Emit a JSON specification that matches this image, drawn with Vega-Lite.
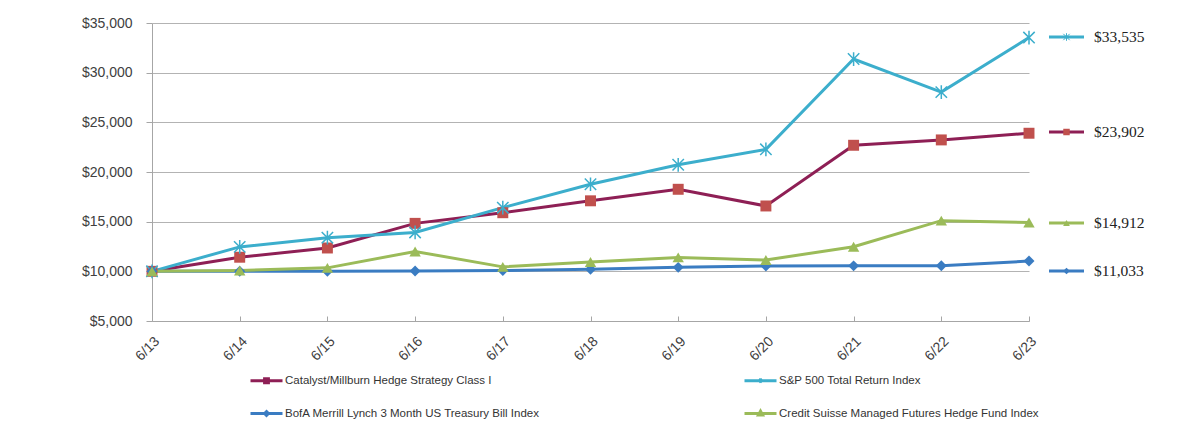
{
  "$schema": "https://vega.github.io/schema/vega-lite/v6.json",
  "padding": {"left": 81, "top": 16, "right": 0, "bottom": 0},
  "autosize": {"type": "pad"},
  "background": "white",
  "bounds": "flush",
  "config": {"view": {"stroke": null}, "concat": {"spacing": 0}, "font": "Liberation Sans"},
  "datasets": {
    "series": [
      {"date": "6/13", "series": "Catalyst/Millburn Hedge Strategy Class I", "value": 10000},
      {"date": "6/14", "series": "Catalyst/Millburn Hedge Strategy Class I", "value": 11420},
      {"date": "6/15", "series": "Catalyst/Millburn Hedge Strategy Class I", "value": 12350},
      {"date": "6/16", "series": "Catalyst/Millburn Hedge Strategy Class I", "value": 14830},
      {"date": "6/17", "series": "Catalyst/Millburn Hedge Strategy Class I", "value": 15900},
      {"date": "6/18", "series": "Catalyst/Millburn Hedge Strategy Class I", "value": 17100},
      {"date": "6/19", "series": "Catalyst/Millburn Hedge Strategy Class I", "value": 18260},
      {"date": "6/20", "series": "Catalyst/Millburn Hedge Strategy Class I", "value": 16580},
      {"date": "6/21", "series": "Catalyst/Millburn Hedge Strategy Class I", "value": 22690},
      {"date": "6/22", "series": "Catalyst/Millburn Hedge Strategy Class I", "value": 23230},
      {"date": "6/23", "series": "Catalyst/Millburn Hedge Strategy Class I", "value": 23902},
      {"date": "6/13", "series": "S&P 500 Total Return Index", "value": 10000},
      {"date": "6/14", "series": "S&P 500 Total Return Index", "value": 12461},
      {"date": "6/15", "series": "S&P 500 Total Return Index", "value": 13386},
      {"date": "6/16", "series": "S&P 500 Total Return Index", "value": 13920},
      {"date": "6/17", "series": "S&P 500 Total Return Index", "value": 16411},
      {"date": "6/18", "series": "S&P 500 Total Return Index", "value": 18770},
      {"date": "6/19", "series": "S&P 500 Total Return Index", "value": 20726},
      {"date": "6/20", "series": "S&P 500 Total Return Index", "value": 22283},
      {"date": "6/21", "series": "S&P 500 Total Return Index", "value": 31372},
      {"date": "6/22", "series": "S&P 500 Total Return Index", "value": 28040},
      {"date": "6/23", "series": "S&P 500 Total Return Index", "value": 33535},
      {"date": "6/13", "series": "BofA Merrill Lynch 3 Month US Treasury Bill Index", "value": 10000},
      {"date": "6/14", "series": "BofA Merrill Lynch 3 Month US Treasury Bill Index", "value": 10005},
      {"date": "6/15", "series": "BofA Merrill Lynch 3 Month US Treasury Bill Index", "value": 10010},
      {"date": "6/16", "series": "BofA Merrill Lynch 3 Month US Treasury Bill Index", "value": 10030},
      {"date": "6/17", "series": "BofA Merrill Lynch 3 Month US Treasury Bill Index", "value": 10080},
      {"date": "6/18", "series": "BofA Merrill Lynch 3 Month US Treasury Bill Index", "value": 10200},
      {"date": "6/19", "series": "BofA Merrill Lynch 3 Month US Treasury Bill Index", "value": 10400},
      {"date": "6/20", "series": "BofA Merrill Lynch 3 Month US Treasury Bill Index", "value": 10540},
      {"date": "6/21", "series": "BofA Merrill Lynch 3 Month US Treasury Bill Index", "value": 10550},
      {"date": "6/22", "series": "BofA Merrill Lynch 3 Month US Treasury Bill Index", "value": 10570},
      {"date": "6/23", "series": "BofA Merrill Lynch 3 Month US Treasury Bill Index", "value": 11033},
      {"date": "6/13", "series": "Credit Suisse Managed Futures Hedge Fund Index", "value": 10000},
      {"date": "6/14", "series": "Credit Suisse Managed Futures Hedge Fund Index", "value": 10080},
      {"date": "6/15", "series": "Credit Suisse Managed Futures Hedge Fund Index", "value": 10350},
      {"date": "6/16", "series": "Credit Suisse Managed Futures Hedge Fund Index", "value": 12000},
      {"date": "6/17", "series": "Credit Suisse Managed Futures Hedge Fund Index", "value": 10450},
      {"date": "6/18", "series": "Credit Suisse Managed Futures Hedge Fund Index", "value": 10940},
      {"date": "6/19", "series": "Credit Suisse Managed Futures Hedge Fund Index", "value": 11400},
      {"date": "6/20", "series": "Credit Suisse Managed Futures Hedge Fund Index", "value": 11140},
      {"date": "6/21", "series": "Credit Suisse Managed Futures Hedge Fund Index", "value": 12480},
      {"date": "6/22", "series": "Credit Suisse Managed Futures Hedge Fund Index", "value": 15100},
      {"date": "6/23", "series": "Credit Suisse Managed Futures Hedge Fund Index", "value": 14912}
    ],
    "labels": [
      {"series": "S&P 500 Total Return Index", "label": "$33,535", "pos": 33591},
      {"series": "Catalyst/Millburn Hedge Strategy Class I", "label": "$23,902", "pos": 24027},
      {"series": "Credit Suisse Managed Futures Hedge Fund Index", "label": "$14,912", "pos": 14866},
      {"series": "BofA Merrill Lynch 3 Month US Treasury Bill Index", "label": "$11,033", "pos": 10034}
    ]
  },
  "resolve": {"scale": {"y": "shared"}},
  "hconcat": [
    {
      "width": 877,
      "height": 298,
      "data": {"name": "series"},
      "encoding": {
        "x": {"field": "date", "type": "ordinal", "sort": null, "scale": {"type": "point", "padding": 0},
          "axis": {"title": null, "labelAngle": -45, "labelFontSize": 14, "labelColor": "#404040", "domainColor": "#A6A6A6", "tickColor": "#A6A6A6", "tickSize": -5, "labelPadding": 18, "grid": false}},
        "y": {"field": "value", "type": "quantitative", "scale": {"domain": [5000, 35000], "nice": false, "zero": false},
          "axis": {"title": null, "values": [5000, 10000, 15000, 20000, 25000, 30000, 35000], "format": "$,.0f", "labelFontSize": 14, "labelColor": "#404040", "gridColor": "#B3B3B3", "gridWidth": 1.2, "domainColor": "#A6A6A6", "tickColor": "#A6A6A6", "tickSize": 6, "labelPadding": 14}}
      },
      "layer": [
        {
          "mark": {"type": "line", "strokeWidth": 3},
          "encoding": {
            "color": {"field": "series", "type": "nominal",
              "scale": {"domain": ["Catalyst/Millburn Hedge Strategy Class I", "S&P 500 Total Return Index", "BofA Merrill Lynch 3 Month US Treasury Bill Index", "Credit Suisse Managed Futures Hedge Fund Index"],
                "range": ["#8E1F55", "#3CAECC", "#3A7CC2", "#9BBB59"]},
              "legend": {
                "title": null, "orient": "none", "legendX": 97, "legendY": 340, "direction": "horizontal", "columns": 2, "columnPadding": 198, "rowPadding": 7,
                "symbolSize": 1024, "labelFontSize": 11.5, "labelColor": "#333333", "labelOffset": 1, "labelLimit": 400,
                "encode": {"symbols": {"update": {
                  "shape": {"signal": "datum.value === 'Catalyst/Millburn Hedge Strategy Class I' ? 'M-1,0H1M-0.12,-0.12H0.12V0.12H-0.12Z' : datum.value === 'S&P 500 Total Return Index' ? 'M-1,0H1M-0.1,-0.1L0.1,0.1M-0.1,0.1L0.1,-0.1M0,-0.14L0,0.14' : datum.value === 'BofA Merrill Lynch 3 Month US Treasury Bill Index' ? 'M-1,0H1M-0.12,0L0,-0.12L0.12,0L0,0.12Z' : 'M-1,0H1M-0.13,0.1L0,-0.14L0.13,0.1Z'"},
                  "fill": {"signal": "datum.value === 'Catalyst/Millburn Hedge Strategy Class I' ? '#C0504D' : datum.value === 'S&P 500 Total Return Index' ? 'transparent' : datum.value === 'BofA Merrill Lynch 3 Month US Treasury Bill Index' ? '#3A7CC2' : '#9BBB59'"},
                  "stroke": {"signal": "datum.value === 'Catalyst/Millburn Hedge Strategy Class I' ? '#8E1F55' : datum.value === 'S&P 500 Total Return Index' ? '#3CAECC' : datum.value === 'BofA Merrill Lynch 3 Month US Treasury Bill Index' ? '#3A7CC2' : '#9BBB59'"},
                  "strokeWidth": {"value": 3},
                  "opacity": {"value": 1}
                }}}
              }}
          }
        },
        {
          "transform": [{"filter": "datum.series === 'Catalyst/Millburn Hedge Strategy Class I'"}],
          "mark": {"type": "point", "shape": "square", "filled": true, "opacity": 1, "fill": "#C0504D", "size": 120}
        },
        {
          "transform": [{"filter": "datum.series === 'S&P 500 Total Return Index'"}],
          "mark": {"type": "point", "shape": "M-1,-1L1,1M-1,1L1,-1M0,-1.2L0,1.2", "filled": false, "opacity": 1, "stroke": "#3CAECC", "strokeWidth": 1.5, "size": 130}
        },
        {
          "transform": [{"filter": "datum.series === 'BofA Merrill Lynch 3 Month US Treasury Bill Index'"}],
          "mark": {"type": "point", "shape": "diamond", "filled": true, "opacity": 1, "fill": "#3A7CC2", "size": 120}
        },
        {
          "transform": [{"filter": "datum.series === 'Credit Suisse Managed Futures Hedge Fund Index'"}],
          "mark": {"type": "point", "shape": "triangle-up", "filled": true, "opacity": 1, "fill": "#9BBB59", "size": 130}
        }
      ]
    },
    {
      "width": 170,
      "height": 298,
      "data": {"name": "labels"},
      "encoding": {
        "y": {"field": "pos", "type": "quantitative", "scale": {"domain": [5000, 35000], "nice": false, "zero": false}, "axis": null}
      },
      "layer": [
        {
          "mark": {"type": "rule", "strokeWidth": 3},
          "encoding": {
            "x": {"datum": 20, "type": "quantitative", "scale": {"domain": [0, 170]}, "axis": null},
            "x2": {"datum": 55},
            "color": {"field": "series", "type": "nominal",
              "scale": {"domain": ["Catalyst/Millburn Hedge Strategy Class I", "S&P 500 Total Return Index", "BofA Merrill Lynch 3 Month US Treasury Bill Index", "Credit Suisse Managed Futures Hedge Fund Index"],
                "range": ["#8E1F55", "#3CAECC", "#3A7CC2", "#9BBB59"]}, "legend": null}
          }
        },
        {
          "transform": [{"filter": "datum.series === 'Catalyst/Millburn Hedge Strategy Class I'"}],
          "mark": {"type": "point", "shape": "square", "filled": true, "opacity": 1, "fill": "#C0504D", "size": 42},
          "encoding": {"x": {"datum": 37.5, "type": "quantitative", "scale": {"domain": [0, 170]}, "axis": null}}
        },
        {
          "transform": [{"filter": "datum.series === 'S&P 500 Total Return Index'"}],
          "mark": {"type": "point", "shape": "M-1,-1L1,1M-1,1L1,-1M0,-1.2L0,1.2", "filled": false, "opacity": 1, "stroke": "#3CAECC", "strokeWidth": 1, "size": 40},
          "encoding": {"x": {"datum": 37.5, "type": "quantitative", "scale": {"domain": [0, 170]}, "axis": null}}
        },
        {
          "transform": [{"filter": "datum.series === 'BofA Merrill Lynch 3 Month US Treasury Bill Index'"}],
          "mark": {"type": "point", "shape": "diamond", "filled": true, "opacity": 1, "fill": "#3A7CC2", "size": 45},
          "encoding": {"x": {"datum": 37.5, "type": "quantitative", "scale": {"domain": [0, 170]}, "axis": null}}
        },
        {
          "transform": [{"filter": "datum.series === 'Credit Suisse Managed Futures Hedge Fund Index'"}],
          "mark": {"type": "point", "shape": "triangle-up", "filled": true, "opacity": 1, "fill": "#9BBB59", "size": 45},
          "encoding": {"x": {"datum": 37.5, "type": "quantitative", "scale": {"domain": [0, 170]}, "axis": null}}
        },
        {
          "mark": {"type": "text", "align": "left", "baseline": "middle", "font": "Liberation Serif", "fontSize": 15.5, "color": "#222222"},
          "encoding": {
            "x": {"datum": 65, "type": "quantitative", "scale": {"domain": [0, 170]}, "axis": null},
            "text": {"field": "label"}
          }
        }
      ]
    }
  ]
}
